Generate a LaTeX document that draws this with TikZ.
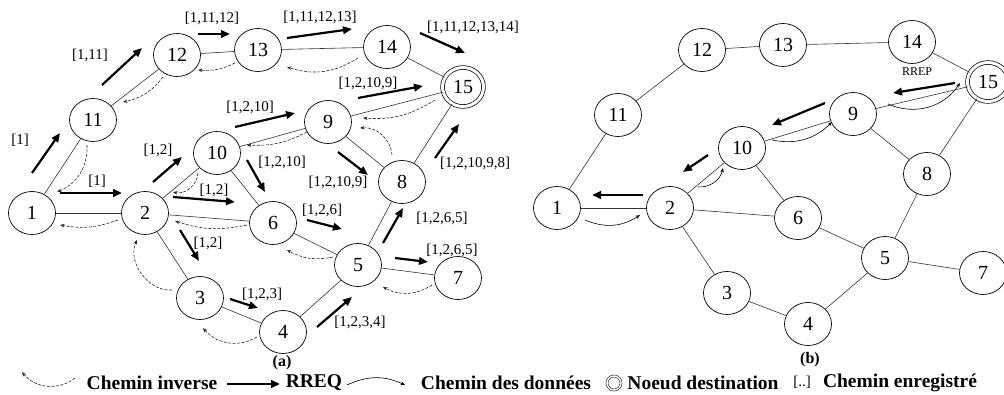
\documentclass[tikz,border=0pt]{standalone}
\usepackage{fontspec}
\setmainfont{Liberation Serif}
\usetikzlibrary{positioning, arrows.meta, shapes.geometric}

\begin{document}
\begin{tikzpicture}[x=1pt, y=-1pt, >=Stealth, on grid, auto,
    nd/.style={ellipse, draw, line width=0.7pt, minimum width=47pt, minimum height=43pt, inner sep=0pt, font=\fontsize{20}{20}\selectfont},
    dest/.style={nd, double, double distance=3pt, minimum width=41pt, minimum height=39pt},
    lnk/.style={line width=0.6pt, black!80},
    rreq/.style={-{Stealth[length=9pt, width=7.5pt, inset=0pt]}, line width=2.2pt},
    inv/.style={-{Stealth[length=4.5pt, width=3.5pt]}, dash pattern=on 3pt off 1.5pt, line width=0.6pt, black!85},
    dat/.style={-{Stealth[length=4.5pt, width=3.5pt]}, line width=0.6pt},
    lbl/.style={font=\fontsize{15}{15}\selectfont, inner sep=0pt},
    subcap/.style={font=\bfseries\fontsize{16}{16}\selectfont, inner sep=0pt},
    lgd/.style={font=\bfseries\fontsize{19.5}{20}\selectfont, inner sep=0pt}]
      \useasboundingbox (0,0) rectangle (1004,395);
      % (a) RREQ flooding
      \node[nd] (a1) at (32,213) {1};
      \node[nd, right=113pt of a1] (a2) {2};
      \node[nd, above right=93pt and 61pt of a1] (a11) {11};
      \node[nd, above right=65pt and 84pt of a11] (a12) {12};
      \node[nd, above right=5pt and 81pt of a12] (a13) {13};
      \node[nd, above right=3pt and 129pt of a13] (a14) {14};
      \node[dest, below right=40pt and 76pt of a14] (a15) {15};
      \node[nd, above right=60pt and 72pt of a2] (a10) {10};
      \node[nd, above right=31pt and 111pt of a10] (a9) {9};
      \node[nd, below right=60pt and 74pt of a9] (a8) {8};
      \node[nd, below right=10pt and 128pt of a2] (a6) {6};
      \node[nd, below right=42pt and 85pt of a6] (a5) {5};
      \node[nd, below right=13pt and 100pt of a5] (a7) {7};
      \node[nd, below right=85pt and 55pt of a2] (a3) {3};
      \node[nd, below right=34pt and 83pt of a3] (a4) {4};
      \path[lnk] (a1) edge (a11) edge (a2)
            (a11) edge (a12)
            (a12) edge (a13)
            (a13) edge (a14)
            (a14) edge (a15)
            (a2) edge (a10) edge (a6) edge (a3)
            (a10) edge (a9) edge (a6)
            (a9) edge (a15) edge (a8)
            (a8) edge (a15) edge (a5)
            (a6) edge (a5)
            (a5) edge (a7) edge (a4)
            (a3) edge (a4);
      % RREQ arrows
      \draw[rreq] ([shift={(0,-40)}]a1.center) -- ([shift={(-33,13)}]a11.center);
      \draw[rreq] ([shift={(28,-20)}]a1.center) -- ([shift={(-23,-20)}]a2.center);
      \draw[rreq] ([shift={(9,-35)}]a11.center) -- ([shift={(-35,-7)}]a12.center);
      \draw[rreq] ([shift={(21,-21)}]a12.center) -- ([shift={(-28,-16)}]a13.center);
      \draw[rreq] ([shift={(29,-12)}]a13.center) -- ([shift={(-35,-18)}]a14.center);
      \draw[rreq] ([shift={(33,-14)}]a14.center) -- ([shift={(2,-34)}]a15.center);
      \draw[rreq] ([shift={(8,-31)}]a2.center) -- ([shift={(-35,4)}]a10.center);
      \draw[rreq] ([shift={(28,-16)}]a2.center) -- ([shift={(-38,-21)}]a6.center);
      \draw[rreq] ([shift={(35,17)}]a2.center) -- ([shift={(-1,-37)}]a3.center);
      \draw[rreq] ([shift={(18,-26)}]a10.center) -- ([shift={(-33,-9)}]a9.center);
      \draw[rreq] ([shift={(30,7)}]a10.center) -- ([shift={(-8,-31)}]a6.center);
      \draw[rreq] ([shift={(30,-24)}]a9.center) -- ([shift={(-40,-1)}]a15.center);
      \draw[rreq] ([shift={(10,30)}]a9.center) -- ([shift={(-34,-7)}]a8.center);
      \draw[rreq] ([shift={(33,-24)}]a8.center) -- ([shift={(-4,37)}]a15.center);
      \draw[rreq] ([shift={(34,-3)}]a6.center) -- ([shift={(-16,-36)}]a5.center);
      \draw[rreq] ([shift={(25,-22)}]a5.center) -- ([shift={(1,26)}]a8.center);
      \draw[rreq] ([shift={(37,-7)}]a5.center) -- ([shift={(-30,-16)}]a7.center);
      \draw[rreq] ([shift={(30,1)}]a3.center) -- ([shift={(-25,-24)}]a4.center);
      \draw[rreq] ([shift={(34,-5)}]a4.center) -- ([shift={(-6,32)}]a5.center);
      % recorded paths
      \node[lbl] (r1) at (20,140) {[1]};
      \node[lbl] (r2) at (97,181) {[1]};
      \node[lbl] (r3) at (90,55) {[1,11]};
      \node[lbl] (r4) at (212,18) {[1,11,12]};
      \node[lbl] (r5) at (320,17) {[1,11,12,13]};
      \node[lbl] (r6) at (473,27) {[1,11,12,13,14]};
      \node[lbl] (r7) at (158,150) {[1,2]};
      \node[lbl] (r8) at (214,190) {[1,2]};
      \node[lbl] (r9) at (208,243) {[1,2]};
      \node[lbl] (r10) at (250,107) {[1,2,10]};
      \node[lbl] (r11) at (282,162) {[1,2,10]};
      \node[lbl] (r12) at (368,83) {[1,2,10,9]};
      \node[lbl] (r13) at (338,182) {[1,2,10,9]};
      \node[lbl] (r14) at (475,163) {[1,2,10,9,8]};
      \node[lbl] (r15) at (322,210) {[1,2,6]};
      \node[lbl] (r16) at (442,218) {[1,2,6,5]};
      \node[lbl] (r17) at (452,250) {[1,2,6,5]};
      \node[lbl] (r18) at (262,294) {[1,2,3]};
      \node[lbl] (r19) at (360,322) {[1,2,3,4]};
      % reverse paths
      \draw[inv] ([shift={(-6,25)}]a11.center) to[bend left=35] ([shift={(25,-21)}]a1.center);
      \draw[inv] ([shift={(-14,22)}]a12.center) to[bend left=20] ([shift={(30,-18)}]a11.center);
      \draw[inv] ([shift={(-23,13)}]a13.center) to[bend left=15] ([shift={(21,15)}]a12.center);
      \draw[inv] ([shift={(-29,11)}]a14.center) to[bend left=25] ([shift={(29,17)}]a13.center);
      \draw[inv] ([shift={(-28,13)}]a15.center) to[bend left=18] ([shift={(35,-4)}]a9.center);
      \draw[inv] ([shift={(-10,-27)}]a8.center) to[bend right=45] ([shift={(32,6)}]a9.center);
      \draw[inv] ([shift={(-21,10)}]a9.center) to[bend left=15] ([shift={(30,-8)}]a10.center);
      \draw[inv] ([shift={(-19,20)}]a10.center) to[bend left=50] ([shift={(28,-21)}]a2.center);
      \draw[inv] ([shift={(-26,2)}]a6.center) to[bend left=15] ([shift={(30,8)}]a2.center);
      \draw[inv] ([shift={(-27,7)}]a2.center) to[bend left=15] ([shift={(28,12)}]a1.center);
      \draw[inv] ([shift={(-28,-8)}]a3.center) to[bend left=60] ([shift={(-8,27)}]a2.center);
      \draw[inv] ([shift={(-26,5)}]a4.center) to[bend left=40] ([shift={(3,30)}]a3.center);
      \draw[inv] ([shift={(-25,-8)}]a5.center) to[bend left=20] ([shift={(14,27)}]a6.center);
      \draw[inv] ([shift={(-26,7)}]a7.center) to[bend left=30] ([shift={(25,22)}]a5.center);
      \node[subcap] (capa) at (282,363) {(a)};
      % (b) RREP and data
      \node[nd] (b1) at (557,208) {1};
      \node[nd, right=113pt of b1] (b2) {2};
      \node[nd, above right=93pt and 61pt of b1] (b11) {11};
      \node[nd, above right=65pt and 84pt of b11] (b12) {12};
      \node[nd, above right=5pt and 81pt of b12] (b13) {13};
      \node[nd, above right=3pt and 129pt of b13] (b14) {14};
      \node[dest, below right=40pt and 76pt of b14] (b15) {15};
      \node[nd, above right=60pt and 72pt of b2] (b10) {10};
      \node[nd, above right=34pt and 111pt of b10] (b9) {9};
      \node[nd, below right=60pt and 74pt of b9] (b8) {8};
      \node[nd, below right=10pt and 128pt of b2] (b6) {6};
      \node[nd, below right=40pt and 87pt of b6] (b5) {5};
      \node[nd, below right=15pt and 98pt of b5] (b7) {7};
      \node[nd, below right=85pt and 57pt of b2] (b3) {3};
      \node[nd, below right=31pt and 81pt of b3] (b4) {4};
      \path[lnk] (b1) edge (b11) edge (b2)
            (b11) edge (b12)
            (b12) edge (b13)
            (b13) edge (b14)
            (b14) edge (b15)
            (b2) edge (b10) edge (b6) edge (b3)
            (b10) edge (b9) edge (b6)
            (b9) edge (b15) edge (b8)
            (b8) edge (b15) edge (b5)
            (b6) edge (b5)
            (b5) edge (b7) edge (b4)
            (b3) edge (b4);
      \draw[rreq] ([shift={(-33,1)}]b15.center) -- ([shift={(40,-21)}]b9.center);
      \draw[rreq] ([shift={(-28,-11)}]b9.center) -- ([shift={(30,-23)}]b10.center);
      \draw[rreq] ([shift={(-34,7)}]b10.center) -- ([shift={(13,-36)}]b2.center);
      \draw[rreq] ([shift={(-27,-13)}]b2.center) -- ([shift={(35,-13)}]b1.center);
      \node[font=\fontsize{12}{12}\selectfont, inner sep=0pt] (rrep) at (917,72) {RREP};
      \draw[dat] ([shift={(28,12)}]b1.center) to[bend right=28] ([shift={(-30,7)}]b2.center);
      \draw[dat] ([shift={(28,-21)}]b2.center) to[bend right=40] ([shift={(-19,20)}]b10.center);
      \draw[dat] ([shift={(30,-8)}]b10.center) to[bend right=28] ([shift={(-21,8)}]b9.center);
      \draw[dat] ([shift={(35,-10)}]b9.center) to[bend right=40] ([shift={(-28,1)}]b15.center);
      \node[subcap] (capb) at (810,360) {(b)};
      % legend
      \node[lgd] (lg1) at (152,383) {Chemin inverse};
      \node[lgd] (lg2) at (314,383) {RREQ};
      \node[lgd] (lg3) at (506,383) {Chemin des données};
      \node[dest, minimum width=14pt, minimum height=14pt, double distance=1.5pt, line width=0.5pt] (lg4) at (614,383) {};
      \node[lgd] (lg5) at (703,383) {Noeud destination};
      \node[lbl] (lg6) at (802,382) {[..]};
      \node[lgd] (lg7) at (900,383) {Chemin enregistré};
      \draw[inv] ([shift={(-77,-5)}]lg1.center) to[bend left=45] ([shift={(-130,-11)}]lg1.center);
      \draw[rreq] ([shift={(-87,1)}]lg2.center) -- ([shift={(-34,1)}]lg2.center);
      \draw[dat] ([shift={(-159,2)}]lg3.center) to[bend left=25] ([shift={(-101,2)}]lg3.center);
\end{tikzpicture}
\end{document}
